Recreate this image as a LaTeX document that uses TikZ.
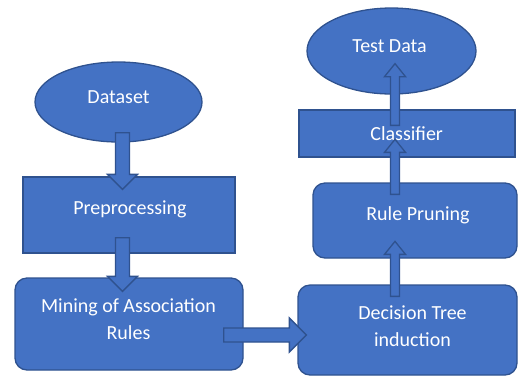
\documentclass[tikz,border=0pt]{standalone}
\usepackage{fontspec}
\setmainfont{Carlito}
\usetikzlibrary{calc,shapes.geometric}
\definecolor{fillb}{HTML}{4472C4}
\definecolor{edgeb}{HTML}{2F528F}
\tikzset{
  shp/.style={fill=fillb, draw=edgeb, line width=1.3pt},
  ellshape/.style={shp, ellipse, inner sep=0pt},
  boxshape/.style={shp, rectangle, inner sep=0pt},
  rboxshape/.style={shp, rectangle, rounded corners=12pt, inner sep=0pt},
  lbl/.style={text=white, font=\fontsize{20}{26.5}\selectfont, align=center, inner sep=0pt},
}
\newcommand\blockarr[5]{%
  \coordinate (hb) at ($(#2)!#5!(#1)$);
  \draw[shp, line join=miter]
    ($(#1)!#3!90:(#2)$) -- ($(hb)!#3!90:(#2)$) -- ($(hb)!#4!90:(#2)$) -- (#2)
    -- ($(hb)!#4!-90:(#2)$) -- ($(hb)!#3!-90:(#2)$) -- ($(#1)!#3!-90:(#2)$) -- cycle;
}
\begin{document}
\begin{tikzpicture}[x=1pt,y=-1pt]
\useasboundingbox (0,0) rectangle (518,376);
% shapes
\node[ellshape, minimum width=167pt, minimum height=80pt] (ds) at (118.5,102) {};
\node[boxshape, minimum width=212pt, minimum height=76pt] (pre) at (129,215) {};
\node[rboxshape, minimum width=228pt, minimum height=92pt] (mine) at (129,324) {};
\node[rboxshape, minimum width=219pt, minimum height=90pt] (dt) at (407.5,330) {};
\node[rboxshape, minimum width=204pt, minimum height=75pt] (rp) at (415,220.5) {};
\node[boxshape, minimum width=216pt, minimum height=47pt] (cls) at (407,133.5) {};
\node[ellshape, minimum width=169pt, minimum height=86pt] (td) at (391.5,51) {};
% labels
\node[lbl, anchor=base] (tds) at (118.5,103.3) {Dataset};
\node[lbl, anchor=base] (tpre) at (130,214.7) {Preprocessing};
\node[lbl] (tmine) at (128.5,319) {Mining of Association\\Rules};
\node[lbl] (tdt) at (412.5,326) {Decision Tree\\induction};
\node[lbl, anchor=base] (trp) at (418,220) {Rule Pruning};
\node[lbl, anchor=base] (tcls) at (406.7,140) {Classifier};
\node[lbl, anchor=base] (ttd) at (389.5,52.5) {Test Data};
% arrow end points
\coordinate (a1s) at ($(ds.south)+(4,-10)$);
\coordinate (a1e) at ($(pre.north)+(-6.5,13)$);
\coordinate (a2s) at ($(pre.south)+(-6.5,-16)$);
\coordinate (a2e) at ($(mine.north)+(-6.5,14)$);
\coordinate (a3s) at ($(mine.east)+(-20,11)$);
\coordinate (a3e) at ($(dt.west)+(9,5)$);
\coordinate (a4s) at ($(dt.north)+(-12.5,12)$);
\coordinate (a4e) at ($(rp.north)+(-20,59)$);
\coordinate (a5s) at ($(rp.north)+(-20,12)$);
\coordinate (a5e) at ($(cls.north)+(-12,30)$);
\coordinate (a6s) at ($(cls.north)+(-12,16)$);
\coordinate (a6e) at ($(td.south)+(3.5,-31)$);
% arrows
\blockarr{a1s}{a1e}{7pt}{15pt}{15pt}
\blockarr{a2s}{a2e}{7pt}{15pt}{15pt}
\blockarr{a3s}{a3e}{7pt}{17pt}{17pt}
\blockarr{a4s}{a4e}{4.5pt}{10.5pt}{13pt}
\blockarr{a5s}{a5e}{4.5pt}{10.5pt}{13pt}
\blockarr{a6s}{a6e}{4.5pt}{10.5pt}{13pt}
\end{tikzpicture}
\end{document}
